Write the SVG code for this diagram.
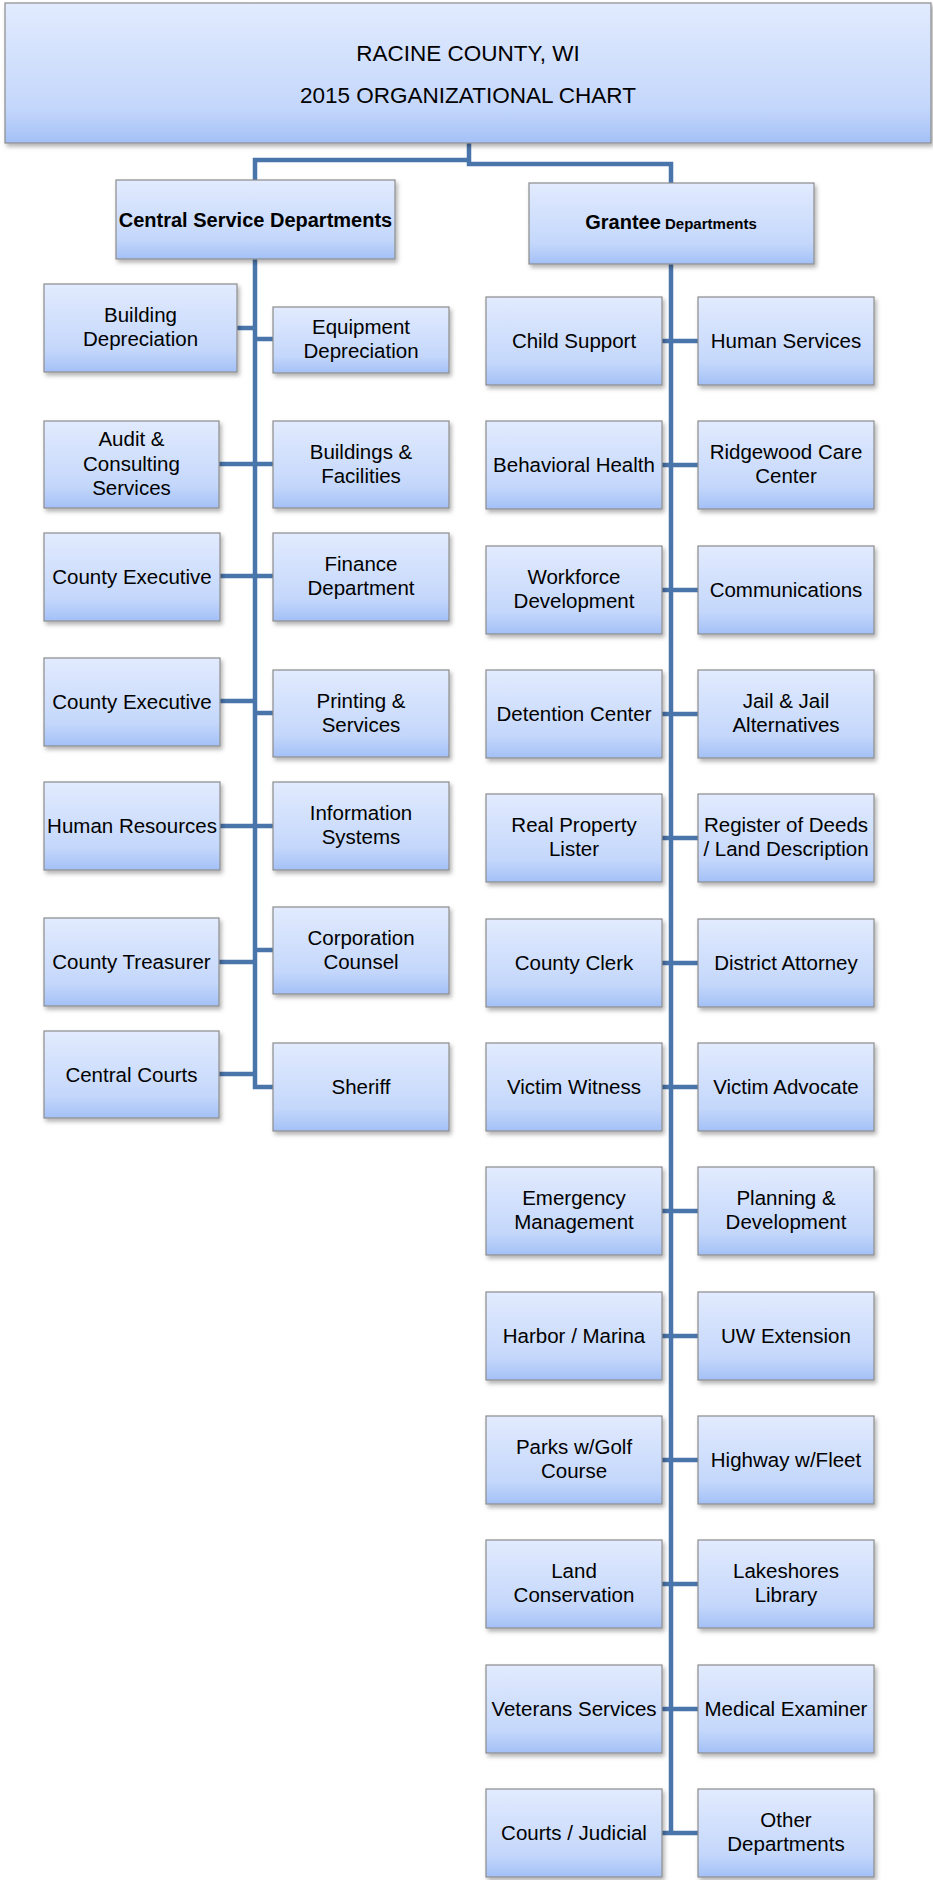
<svg xmlns="http://www.w3.org/2000/svg" width="933" height="1880" viewBox="0 0 933 1880">
<defs>
<linearGradient id="g" x1="0" y1="0" x2="0" y2="1">
<stop offset="0" stop-color="#e2ebfe"/>
<stop offset="0.75" stop-color="#c4d7fb"/>
<stop offset="1" stop-color="#a3c0f6"/>
</linearGradient>
<filter id="sh" x="-10%" y="-10%" width="125%" height="135%">
<feDropShadow dx="2" dy="3" stdDeviation="2" flood-color="#000" flood-opacity="0.3"/>
</filter>
<style>
.box{fill:url(#g);stroke:#8c8c8c;stroke-width:1.2;filter:url(#sh)}
.t{font-family:"Liberation Sans",Arial,sans-serif;font-size:20.5px;fill:#000;text-anchor:middle}
.h{font-family:"Liberation Sans",Arial,sans-serif;font-weight:bold;fill:#000;text-anchor:middle}
.c{stroke:#4a75ab;stroke-width:4.5;fill:none;stroke-linejoin:miter}
</style>
</defs>
<rect width="933" height="1880" fill="#fff"/>

<g id="connectors">
<path class="c" d="M255 180 V160 H469"/>
<path class="c" d="M469 143 V164 H671 V183"/>
<path class="c" d="M255 259 V1087 H273"/>
<path class="c" d="M237 328 H255 M255 339 H273 M219 464 H273 M220 576 H273 M220 701 H255 M255 713 H273 M220 826 H273 M219 962 H255 M255 950 H273 M219 1074 H255"/>
<path class="c" d="M671 264 V1833"/>
<path class="c" d="M662 341 H698 M662 465 H698 M662 590 H698 M662 714 H698 M662 838 H698 M662 963 H698 M662 1087 H698 M662 1211 H698 M662 1336 H698 M662 1460 H698 M662 1584 H698 M662 1709 H698 M662 1833 H698"/>
</g>

<g id="title">
<rect class="box" x="5" y="3" width="926" height="140"/>
<text class="t" x="468" y="61" style="font-size:22.5px">RACINE COUNTY, WI</text>
<text class="t" x="468" y="102.5" style="font-size:22.5px">2015 ORGANIZATIONAL CHART</text>
</g>

<g id="central-service-departments">
<rect class="box" x="116" y="180" width="279" height="79"/>
<text class="h" x="255.5" y="226.5" style="font-size:20px">Central Service Departments</text>
</g>

<g id="grantee-departments">
<rect class="box" x="529" y="183" width="285" height="81"/>
<text class="h" x="671" y="229"><tspan style="font-size:20px">Grantee</tspan><tspan style="font-size:15px"> Departments</tspan></text>
</g>

<!-- Central service column -->
<g id="building-depreciation">
<rect class="box" x="44" y="284" width="193" height="88"/>
<text class="t" x="140.5" y="322">Building</text>
<text class="t" x="140.5" y="346">Depreciation</text>
</g>
<g id="equipment-depreciation">
<rect class="box" x="273" y="307" width="176" height="66"/>
<text class="t" x="361" y="334">Equipment</text>
<text class="t" x="361" y="358">Depreciation</text>
</g>
<g id="audit-consulting-services">
<rect class="box" x="44" y="421" width="175" height="87"/>
<text class="t" x="131.5" y="446">Audit &amp;</text>
<text class="t" x="131.5" y="470.5">Consulting</text>
<text class="t" x="131.5" y="495">Services</text>
</g>
<g id="buildings-facilities">
<rect class="box" x="273" y="421" width="176" height="87"/>
<text class="t" x="361" y="458.5">Buildings &amp;</text>
<text class="t" x="361" y="482.5">Facilities</text>
</g>
<g id="county-executive-1">
<rect class="box" x="44" y="533" width="176" height="88"/>
<text class="t" x="132" y="584">County Executive</text>
</g>
<g id="finance-department">
<rect class="box" x="273" y="533" width="176" height="88"/>
<text class="t" x="361" y="571">Finance</text>
<text class="t" x="361" y="595">Department</text>
</g>
<g id="county-executive-2">
<rect class="box" x="44" y="658" width="176" height="88"/>
<text class="t" x="132" y="709">County Executive</text>
</g>
<g id="printing-services">
<rect class="box" x="273" y="670" width="176" height="87"/>
<text class="t" x="361" y="707.5">Printing &amp;</text>
<text class="t" x="361" y="731.5">Services</text>
</g>
<g id="human-resources">
<rect class="box" x="44" y="782" width="176" height="88"/>
<text class="t" x="132" y="833">Human Resources</text>
</g>
<g id="information-systems">
<rect class="box" x="273" y="782" width="176" height="88"/>
<text class="t" x="361" y="820">Information</text>
<text class="t" x="361" y="844">Systems</text>
</g>
<g id="county-treasurer">
<rect class="box" x="44" y="918" width="175" height="88"/>
<text class="t" x="131.5" y="969">County Treasurer</text>
</g>
<g id="corporation-counsel">
<rect class="box" x="273" y="907" width="176" height="87"/>
<text class="t" x="361" y="944.5">Corporation</text>
<text class="t" x="361" y="968.5">Counsel</text>
</g>
<g id="central-courts">
<rect class="box" x="44" y="1031" width="175" height="87"/>
<text class="t" x="131.5" y="1081.5">Central Courts</text>
</g>
<g id="sheriff">
<rect class="box" x="273" y="1043" width="176" height="88"/>
<text class="t" x="361" y="1094">Sheriff</text>
</g>

<!-- Grantee column -->
<g id="child-support"><rect class="box" x="486" y="297" width="176" height="88"/><text class="t" x="574" y="348">Child Support</text></g>
<g id="human-services"><rect class="box" x="698" y="297" width="176" height="88"/><text class="t" x="786" y="348">Human Services</text></g>

<g id="behavioral-health"><rect class="box" x="486" y="421" width="176" height="88"/><text class="t" x="574" y="472">Behavioral Health</text></g>
<g id="ridgewood-care-center"><rect class="box" x="698" y="421" width="176" height="88"/><text class="t" x="786" y="459">Ridgewood Care</text><text class="t" x="786" y="483">Center</text></g>

<g id="workforce-development"><rect class="box" x="486" y="546" width="176" height="88"/><text class="t" x="574" y="584">Workforce</text><text class="t" x="574" y="608">Development</text></g>
<g id="communications"><rect class="box" x="698" y="546" width="176" height="88"/><text class="t" x="786" y="597">Communications</text></g>

<g id="detention-center"><rect class="box" x="486" y="670" width="176" height="88"/><text class="t" x="574" y="721">Detention Center</text></g>
<g id="jail-alternatives"><rect class="box" x="698" y="670" width="176" height="88"/><text class="t" x="786" y="708">Jail &amp; Jail</text><text class="t" x="786" y="732">Alternatives</text></g>

<g id="real-property-lister"><rect class="box" x="486" y="794" width="176" height="88"/><text class="t" x="574" y="832">Real Property</text><text class="t" x="574" y="856">Lister</text></g>
<g id="register-of-deeds"><rect class="box" x="698" y="794" width="176" height="88"/><text class="t" x="786" y="832">Register of Deeds</text><text class="t" x="786" y="856">/ Land Description</text></g>

<g id="county-clerk"><rect class="box" x="486" y="919" width="176" height="88"/><text class="t" x="574" y="970">County Clerk</text></g>
<g id="district-attorney"><rect class="box" x="698" y="919" width="176" height="88"/><text class="t" x="786" y="970">District Attorney</text></g>

<g id="victim-witness"><rect class="box" x="486" y="1043" width="176" height="88"/><text class="t" x="574" y="1094">Victim Witness</text></g>
<g id="victim-advocate"><rect class="box" x="698" y="1043" width="176" height="88"/><text class="t" x="786" y="1094">Victim Advocate</text></g>

<g id="emergency-management"><rect class="box" x="486" y="1167" width="176" height="88"/><text class="t" x="574" y="1205">Emergency</text><text class="t" x="574" y="1229">Management</text></g>
<g id="planning-development"><rect class="box" x="698" y="1167" width="176" height="88"/><text class="t" x="786" y="1205">Planning &amp;</text><text class="t" x="786" y="1229">Development</text></g>

<g id="harbor-marina"><rect class="box" x="486" y="1292" width="176" height="88"/><text class="t" x="574" y="1343">Harbor / Marina</text></g>
<g id="uw-extension"><rect class="box" x="698" y="1292" width="176" height="88"/><text class="t" x="786" y="1343">UW Extension</text></g>

<g id="parks-golf-course"><rect class="box" x="486" y="1416" width="176" height="88"/><text class="t" x="574" y="1454">Parks w/Golf</text><text class="t" x="574" y="1478">Course</text></g>
<g id="highway-fleet"><rect class="box" x="698" y="1416" width="176" height="88"/><text class="t" x="786" y="1467">Highway w/Fleet</text></g>

<g id="land-conservation"><rect class="box" x="486" y="1540" width="176" height="88"/><text class="t" x="574" y="1578">Land</text><text class="t" x="574" y="1602">Conservation</text></g>
<g id="lakeshores-library"><rect class="box" x="698" y="1540" width="176" height="88"/><text class="t" x="786" y="1578">Lakeshores</text><text class="t" x="786" y="1602">Library</text></g>

<g id="veterans-services"><rect class="box" x="486" y="1665" width="176" height="88"/><text class="t" x="574" y="1716">Veterans Services</text></g>
<g id="medical-examiner"><rect class="box" x="698" y="1665" width="176" height="88"/><text class="t" x="786" y="1716">Medical Examiner</text></g>

<g id="courts-judicial"><rect class="box" x="486" y="1789" width="176" height="88"/><text class="t" x="574" y="1840">Courts / Judicial</text></g>
<g id="other-departments"><rect class="box" x="698" y="1789" width="176" height="88"/><text class="t" x="786" y="1827">Other</text><text class="t" x="786" y="1851">Departments</text></g>
</svg>
